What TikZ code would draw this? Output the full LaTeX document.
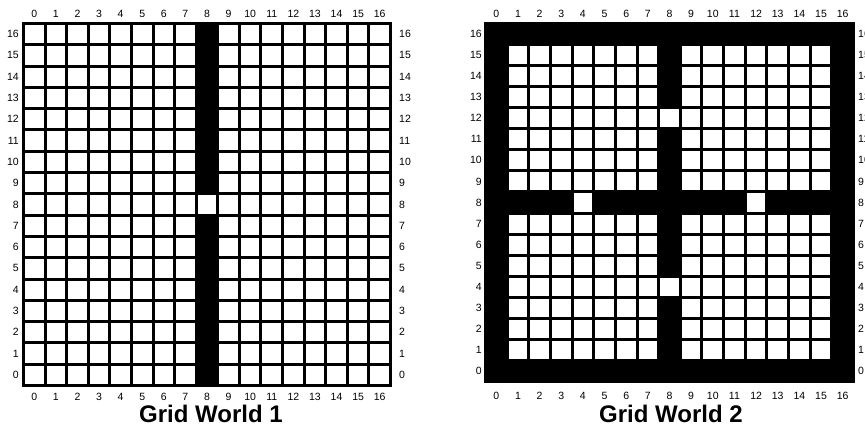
\documentclass[tikz,border=0pt]{standalone}
\usepackage{fontspec}
\setmainfont{Liberation Sans}
\tikzset{
  num/.style={inner sep=0pt, font=\fontsize{10.5}{12}\selectfont},
  title/.style={inner sep=0pt, anchor=base, font=\fontsize{24}{28}\selectfont\bfseries},
  wall/.style={fill=black},
  freecell/.style={fill=white}
}
\begin{document}
\begin{tikzpicture}[x=1pt,y=1pt]
\useasboundingbox (0,0) rectangle (865,426);
% ---------- Grid World 1 ----------
\def\gax{22}\def\gay{22}\def\gaw{370}\def\gah{365}
\pgfmathsetmacro\gasx{(\gaw-54)/17}
\pgfmathsetmacro\gasy{(\gah-54)/17}
\fill[wall] (\gax,426-\gay) rectangle ++(\gaw,-\gah);
\foreach \c in {0,...,16}{
  \foreach \r in {0,...,16}{
    \pgfmathtruncatemacro\gopen{(\c!=8)||(\r==8)}
    \ifnum\gopen=1
      \pgfmathsetmacro\gx{\gax+3+\c*(\gasx+3)}
      \pgfmathsetmacro\gy{426-(\gay+3+(16-\r)*(\gasy+3))}
      \fill[freecell] (\gx,\gy) rectangle ++(\gasx,-\gasy);
    \fi
  }
}
\foreach \c in {0,...,16}{
  \pgfmathsetmacro\gx{\gax+3+\c*(\gasx+3)+\gasx/2}
  \node[num] (gAtop\c) at (\gx,426-13.5) {\c};
  \node[num] (gAbot\c) at (\gx,426-396.5) {\c};
}
\foreach \r in {0,...,16}{
  \pgfmathsetmacro\gy{426-(\gay+3+(16-\r)*(\gasy+3)+\gasy/2)}
  \node[num,anchor=east] (gAleft\r) at (19,\gy) {\r};
  \node[num,anchor=west] (gAright\r) at (399,\gy) {\r};
}
\node[title] (titleA) at (211,4) {Grid World 1};
% ---------- Grid World 2 ----------
\def\gbx{484}\def\gby{22}\def\gbw{371}\def\gbh{361}
\pgfmathsetmacro\gbsx{(\gbw-54)/17}
\pgfmathsetmacro\gbsy{(\gbh-54)/17}
\fill[wall] (\gbx,426-\gby) rectangle ++(\gbw,-\gbh);
\foreach \c in {0,...,16}{
  \foreach \r in {0,...,16}{
    \pgfmathtruncatemacro\gopen{(\c>0)&&(\c<16)&&(\r>0)&&(\r<16)&&((\c!=8)||(\r==4)||(\r==12))&&((\r!=8)||(\c==4)||(\c==12))}
    \ifnum\gopen=1
      \pgfmathsetmacro\gx{\gbx+3+\c*(\gbsx+3)}
      \pgfmathsetmacro\gy{426-(\gby+3+(16-\r)*(\gbsy+3))}
      \fill[freecell] (\gx,\gy) rectangle ++(\gbsx,-\gbsy);
    \fi
  }
}
\foreach \c in {0,...,16}{
  \pgfmathsetmacro\gx{\gbx+3+\c*(\gbsx+3)+\gbsx/2}
  \node[num] (gBtop\c) at (\gx,426-13.5) {\c};
  \node[num] (gBbot\c) at (\gx,426-395.5) {\c};
}
\foreach \r in {0,...,16}{
  \pgfmathsetmacro\gy{426-(\gby+3+(16-\r)*(\gbsy+3)+\gbsy/2)}
  \node[num,anchor=east] (gBleft\r) at (482,\gy) {\r};
  \node[num,anchor=west] (gBright\r) at (858,\gy) {\r};
}
\node[title] (titleB) at (671,4) {Grid World 2};
\end{tikzpicture}
\end{document}
